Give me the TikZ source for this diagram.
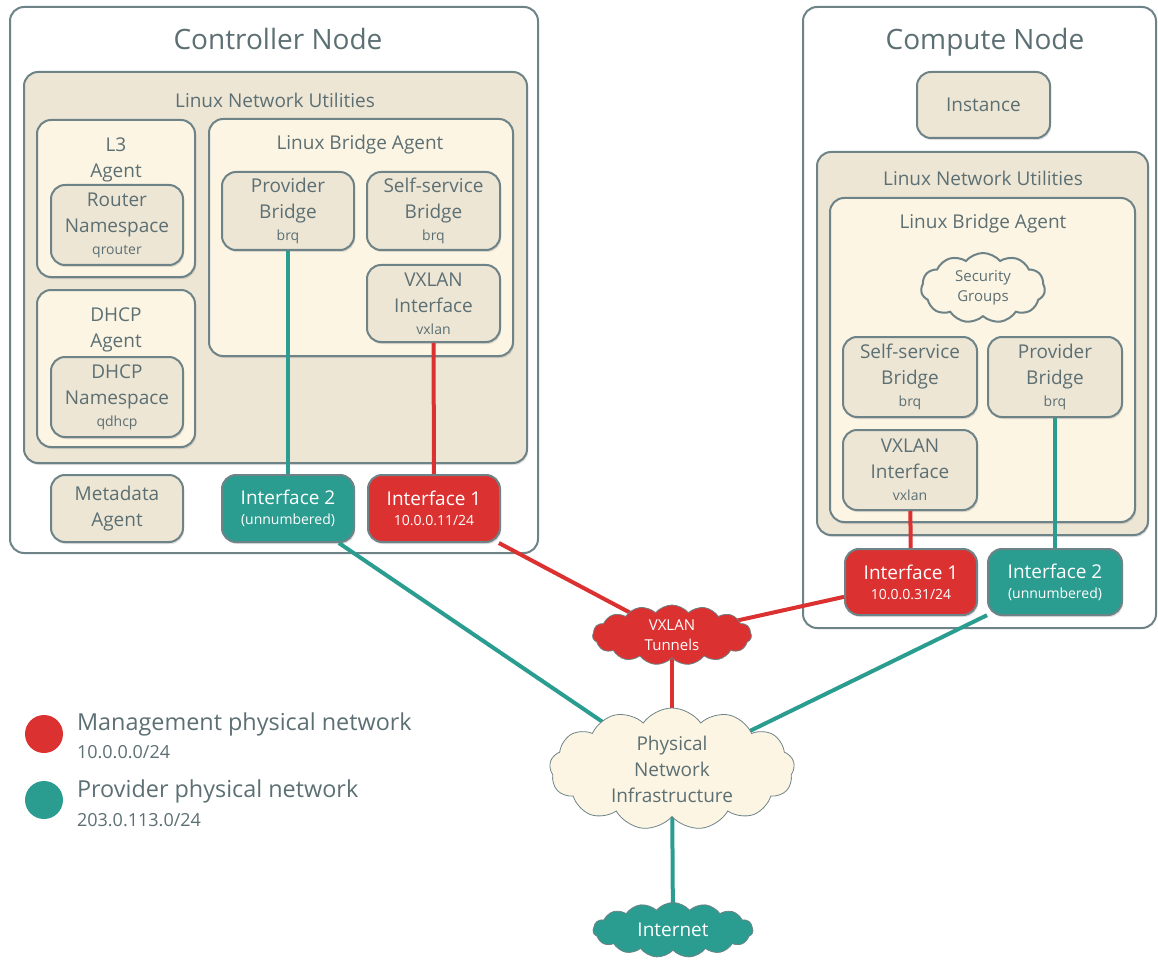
\documentclass[tikz,border=0pt]{standalone}
\usepackage{fontspec}
\setmainfont{Open Sans}
\usetikzlibrary{shapes.symbols,shadows,positioning}

\definecolor{ink}{HTML}{5C6F73}
\definecolor{edge}{HTML}{6E8387}
\definecolor{sand}{HTML}{EDE6D5}
\definecolor{cream}{HTML}{FCF5E3}
\definecolor{mgmt}{HTML}{DC3131}
\definecolor{prov}{HTML}{2A9D90}

\pgfdeclarelayer{front}
\pgfsetlayers{main,front}

\newcommand{\headtxt}{\fontsize{14}{17}\selectfont}
\newcommand{\nodetxt}{\fontsize{9.5}{13}\selectfont}
\newcommand{\subtxt}{\fontsize{7}{9}\selectfont}
\newcommand{\cloudtxt}{\fontsize{7.5}{10}\selectfont}
\newcommand{\legtxt}{\fontsize{11.7}{14}\selectfont}
\newcommand{\legsub}{\fontsize{9}{11}\selectfont}

\tikzset{wh/.style 2 args={minimum width=#1*0.5pt, minimum height=#2*0.5pt}}
\tikzstyle{soft} = [drop shadow={shadow xshift=0.6pt, shadow yshift=-1pt, opacity=0.25}]
\tikzstyle{host} = [rectangle, rounded corners=7pt, draw=edge, fill=white, inner sep=0pt]
\tikzstyle{util} = [rectangle, rounded corners=7pt, draw=edge, fill=sand, inner sep=0pt, soft]
\tikzstyle{agent} = [rectangle, rounded corners=7pt, draw=edge, fill=cream, inner sep=0pt, soft]
\tikzstyle{s} = [rectangle, rounded corners=7pt, draw=edge, fill=sand, inner sep=0pt, soft, text=ink, align=center, font=\nodetxt]
\tikzstyle{iface} = [s, text=white]
\tikzstyle{net} = [cloud, cloud puffs=15, cloud puff arc=100, cloud ignores aspect, draw=edge, inner sep=0pt, text=ink, align=center, font=\nodetxt]
\tikzstyle{lbl} = [text=ink, align=center, font=\nodetxt]
\tikzstyle{head} = [text=ink, font=\headtxt, anchor=base]
\tikzstyle{mgmtlink} = [draw=mgmt, line width=2pt]
\tikzstyle{provlink} = [draw=prov, line width=2pt]
\tikzstyle{dot} = [circle, minimum size=19pt, inner sep=0pt]

\begin{document}
\begin{tikzpicture}[x=0.5pt,y=-0.5pt,line width=1pt]
\useasboundingbox (0,0) rectangle (1158,963);

% controller node
\node[host, wh={528}{546}] (ctrl) at (274,280) {};
\node[head] (ctrltitle) at (278,50) {Controller Node};
\node[util, wh={503}{391}] (clnu) at (275.5,267.5) {};
\node[lbl] (clnulabel) at (275,100) {Linux Network Utilities};

\node[agent, wh={158}{157}] (l3) at (116,198.5) {};
\node[lbl] (l3label) at (116,160) {L3\\Agent};
\node[s, wh={132}{80}] (rns) at (117,225) {Router\\Namespace\\[-2pt]{\subtxt qrouter}};

\node[agent, wh={158}{157}] (dhcp) at (116,368.5) {};
\node[lbl] (dhcplabel) at (116,330) {DHCP\\Agent};
\node[s, wh={132}{80}] (dns) at (117,397) {DHCP\\Namespace\\[-2pt]{\subtxt qdhcp}};

\node[agent, wh={304}{237}] (clba) at (361,237.5) {};
\node[lbl] (clbalabel) at (360,145) {Linux Bridge Agent};
\node[s, wh={132}{78}] (cpb) at (288,211) {Provider\\Bridge\\[-2pt]{\subtxt brq}};
\node[s, wh={133}{78}] (cssb) at (433.5,211) {Self-service\\Bridge\\[-2pt]{\subtxt brq}};
\node[s, wh={133}{77}] (cvx) at (433.5,303.5) {VXLAN\\Interface\\[-2pt]{\subtxt vxlan}};

\node[s, wh={132}{67}] (meta) at (117,508.5) {Metadata\\Agent};
\node[iface, fill=prov, wh={132}{67}] (cif2) at (288,508.5) {Interface 2\\[-3pt]{\subtxt (unnumbered)}};
\node[iface, fill=mgmt, wh={132}{67}] (cif1) at (434,508.5) {Interface 1\\[-3pt]{\subtxt 10.0.0.11/24}};

% compute node
\node[host, wh={353}{621}] (comp) at (979.5,317.5) {};
\node[head] (comptitle) at (985,50) {Compute Node};
\node[s, wh={133}{66}] (inst) at (983.5,105) {Instance};
\node[util, wh={331}{383}] (slnu) at (982.5,343.5) {};
\node[lbl] (slnulabel) at (983,178) {Linux Network Utilities};
\node[agent, wh={305}{324}] (slba) at (982.5,360) {};
\node[lbl] (slbalabel) at (983,224) {Linux Bridge Agent};
\node[net, fill=cream, cloud puffs=11, wh={124}{70}, font=\cloudtxt] (secgrp) at (983,288) {Security\\Groups};
\node[s, wh={134}{80}] (sssb) at (910,377) {Self-service\\Bridge\\[-2pt]{\subtxt brq}};
\node[s, wh={134}{80}] (spb) at (1055,377) {Provider\\Bridge\\[-2pt]{\subtxt brq}};
\node[s, wh={134}{80}] (svx) at (910,470) {VXLAN\\Interface\\[-2pt]{\subtxt vxlan}};
\node[iface, fill=mgmt, wh={132}{66}] (sif1) at (911,582) {Interface 1\\[-3pt]{\subtxt 10.0.0.31/24}};
\node[iface, fill=prov, wh={134}{66}] (sif2) at (1055,582) {Interface 2\\[-3pt]{\subtxt (unnumbered)}};

% networks, kept above the links
\begin{pgfonlayer}{front}
\node[net, fill=mgmt, text=white, wh={159}{60}, font=\cloudtxt] (tunnels) at (672,635) {VXLAN\\Tunnels};
\node[net, fill=cream, cloud puffs=13, cloud puff arc=110, wh={245}{122}] (phys) at (672,769) {Physical\\Network\\Infrastructure};
\node[net, fill=prov, text=white, wh={160}{55}] (inet) at (673,930) {Internet};
\end{pgfonlayer}

% links
\draw[provlink] (cpb) -- (cif2);
\draw[mgmtlink] (cvx) -- (cif1);
\draw[mgmtlink] (svx) -- (sif1);
\draw[provlink] (spb) -- (sif2);
\draw[mgmtlink] (cif1) -- (tunnels.center);
\draw[mgmtlink] (tunnels.center) -- (sif1);
\draw[mgmtlink] (tunnels.center) -- (phys.center);
\draw[provlink] (cif2) -- (phys.center);
\draw[provlink] (sif2) -- (phys.center);
\draw[provlink] (phys.center) -- (inet.center);

% legend
\node[dot, fill=mgmt] (mgmtdot) at (44,734) {};
\node[text=ink, font=\legtxt, anchor=west] (mgmttext) at (70,724) {Management physical network};
\node[text=ink, font=\legsub, anchor=west] (mgmtnet) at (70,752) {10.0.0.0/24};
\node[dot, fill=prov] (provdot) at (44,800) {};
\node[text=ink, font=\legtxt, anchor=west] (provtext) at (70,791) {Provider physical network};
\node[text=ink, font=\legsub, anchor=west] (provnet) at (70,820) {203.0.113.0/24};

\end{tikzpicture}
\end{document}
